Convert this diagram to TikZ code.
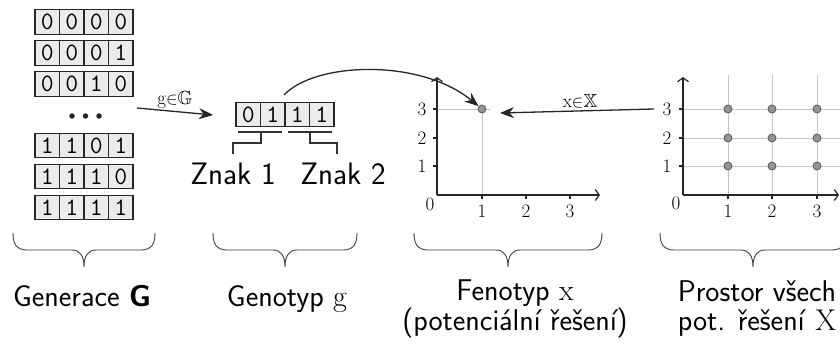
\documentclass[tikz,border=0pt]{standalone}
\usepackage{amssymb}
\usepackage{fontspec}
\usetikzlibrary{arrows.meta}
\newcommand{\mybrace}[2]{%
 \draw[brace] (#1,233) .. controls (#1,243) and ({#1+3},250) .. ({#1+14},250)
   -- ({(#1+#2)/2-12},250) .. controls ({(#1+#2)/2-4},250) and ({(#1+#2)/2},256) .. ({(#1+#2)/2},267)
   .. controls ({(#1+#2)/2},256) and ({(#1+#2)/2+4},250) .. ({(#1+#2)/2+12},250)
   -- ({#2-14},250) .. controls ({#2-3},250) and (#2,243) .. (#2,233);}
\begin{document}
\begin{tikzpicture}[x=1pt,y=-1pt,
  cell/.style={draw=black!85, fill=black!8, line width=1.1pt, minimum width=24.5pt, minimum height=24.5pt, inner sep=0pt, font=\fontsize{25}{25}\selectfont\ttfamily},
  lbl/.style={font=\fontsize{30}{28.5}\selectfont\sffamily, align=center, inner sep=0pt},
  znak/.style={font=\fontsize{31}{31}\selectfont\sffamily, anchor=base, inner sep=0pt},
  num/.style={font=\fontsize{19}{19}\selectfont, inner sep=0pt},
  axis/.style={line width=1.2pt, draw=black!85, -{Straight Barb[length=4pt,width=11pt]}},
  gridline/.style={draw=black!22, line width=0.9pt},
  tick/.style={line width=1.1pt, draw=black!85},
  pt/.style={circle, fill=black!42, draw=black!62, line width=0.9pt, minimum size=8pt, inner sep=0pt},
  conn/.style={line width=1.3pt, draw=black!85, -{Stealth[length=14pt,width=11pt]}},
  bracket/.style={line width=1.1pt, draw=black!80},
  brace/.style={line width=0.9pt, draw=black!75},
  dot/.style={circle, fill=black!85, minimum size=5.5pt, inner sep=0pt},
]
\fill[white] (0,0) rectangle (840,347);
\useasboundingbox (0,0) rectangle (840,347);

% Generace G
\foreach \r/\yy/\bits in {1/22/{0,0,0,0}, 2/53/{0,0,0,1}, 3/84/{0,0,1,0}, 4/145.5/{1,1,0,1}, 5/176.5/{1,1,1,0}, 6/207.5/{1,1,1,1}} {
  \foreach \b [count=\c] in \bits {
    \node[cell] (G\r-\c) at ({22.75+24.5*\c},\yy) {\b};
  }
}
\node[dot] (d1) at (72,116) {};
\node[dot] (d2) at (85.5,116) {};
\node[dot] (d3) at (99,116) {};

% Genotyp
\foreach \b [count=\c] in {0,1,1,1} {
  \node[cell] (g\c) at ({223.75+24.5*\c},114.5) {\b};
}
\draw[bracket] (238,132) -- (282,132);
\draw[bracket] (261,132) -- (261,143) -- (233,143) -- (233,154);
\draw[bracket] (288,132) -- (332,132);
\draw[bracket] (310,132) -- (310,143) -- (337,143) -- (337,154);
\node[znak] (z1) at (233,185) {Znak 1};
\node[znak] (z2) at (343,185) {Znak 2};

% arrow g in G
\coordinate (a0) at (137,108);
\coordinate (a1) at (213,115);
\draw[conn] (a0) -- (a1);
\node[num] (lg) at (175,100) {$\mathrm{g}{\in}\mathbb{G}$};

% Fenotyp plot
\draw[gridline] (482,109) -- (482,195);
\draw[gridline] (437,109) -- (490,109);
\draw[axis] (437,195) -- (437,77);
\draw[axis] (437,195) -- (600,195);
\foreach \y/\t in {109/3,138/2,166/1} {
  \draw[tick] (433,\y) -- (437,\y);
  \node[num] at (422,\y) {\t};
}
\foreach \x/\t in {482/1,526/2,570/3} {
  \draw[tick] (\x,195) -- (\x,199);
  \node[num] at (\x,211) {\t};
}
\node[num] at (430,204) {0};
\node[pt] (p) at (482,109) {};

% curved arrow genotype -> phenotype
\coordinate (c0) at (284,95);
\draw[conn] (c0) .. controls (315,62) and (420,58) .. (p);

% Prostor plot
\foreach \x in {728,772,817} \draw[gridline] (\x,75) -- (\x,195);
\foreach \y in {109,138,166} \draw[gridline] (683,\y) -- (840,\y);
\draw[axis] (683,195) -- (683,77);
\draw[axis] (683,195) -- (839,195);
\foreach \y/\t in {109/3,138/2,166/1} {
  \draw[tick] (679,\y) -- (683,\y);
  \node[num] at (667,\y) {\t};
}
\foreach \x/\t in {728/1,772/2,817/3} {
  \draw[tick] (\x,195) -- (\x,199);
  \node[num] at (\x,211) {\t};
}
\node[num] at (676,203) {0};
\foreach \x/\i in {728/1,772/2,817/3} {
  \foreach \y/\j in {109/3,138/2,166/1} {
    \node[pt] (q\i\j) at (\x,\y) {};
  }
}

% arrow x in X
\coordinate (b0) at (654,109);
\coordinate (b1) at (500,113);
\draw[conn] (b0) -- (b1);
\node[num] (lx) at (580,101) {$\mathrm{x}{\in}\mathbb{X}$};

% braces
\mybrace{13}{155}
\mybrace{213}{357}
\mybrace{414}{602}
\mybrace{660}{846}

% labels
\node[lbl, anchor=base] (t1) at (82,306) {Generace \textbf{G}};
\node[lbl, anchor=base] (t2) at (287,306) {Genotyp \textrm{g}};
\node[lbl, anchor=base] (t3) at (515,330) {Fenotyp \textrm{x}\\(potenciální řešení)};
\node[lbl, anchor=base] (t4) at (757,330) {Prostor všech\\pot. řešení \textrm{X}};
\end{tikzpicture}
\end{document}
